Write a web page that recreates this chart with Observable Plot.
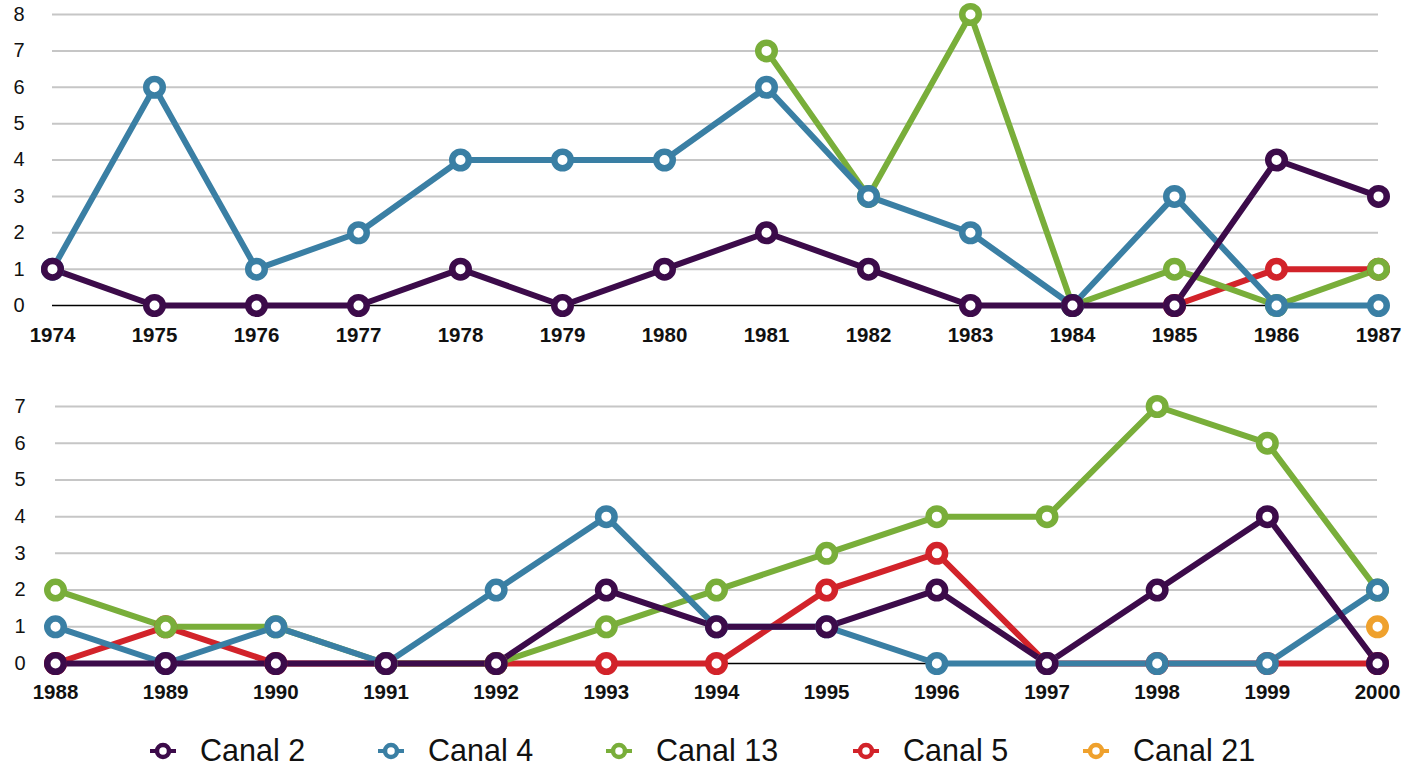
<!DOCTYPE html>
<html>
<head>
<meta charset="utf-8">
<script src="https://cdn.jsdelivr.net/npm/d3@7"></script>
<script src="https://cdn.jsdelivr.net/npm/@observablehq/plot@0.6"></script>
<style>
  html, body { margin: 0; padding: 0; background: #fff; }
  body { width: 1416px; height: 771px; overflow: hidden; font-family: "Liberation Sans", Arial, Helvetica, sans-serif; }
  #top, #bottom { display: block; height: auto; }
  #top svg, #bottom svg { display: block; }
  #legend { position: absolute; left: 0; top: 730px; width: 1416px; height: 41px; }
  .item { position: absolute; top: 0; height: 41px; display: flex; align-items: center; }
  .item span { font-size: 30.5px; color: #111; margin-left: 22px; line-height: 41px; }
</style>
</head>
<body>
<div id="top"></div>
<div id="bottom"></div>
<div id="legend"></div>
<script>
// ---- data ----
const series = ["Canal 2", "Canal 4", "Canal 13", "Canal 5", "Canal 21"];
const colors = ["#3c0b4a", "#3a7fa4", "#79ae3a", "#d2232a", "#efa12d"];

const yearsTop = [1974, 1975, 1976, 1977, 1978, 1979, 1980, 1981, 1982, 1983, 1984, 1985, 1986, 1987];
const canal2Top  = [1, 0, 0, 0, 1, 0, 1, 2, 1, 0, 0, 0, 4, 3];
const canal4Top  = [1, 6, 1, 2, 4, 4, 4, 6, 3, 2, 0, 3, 0, 0];
const canal13Top = [null, null, null, null, null, null, null, 7, 3, 8, 0, 1, 0, 1];
const canal5Top  = [null, null, null, null, null, null, null, null, null, null, null, 0, 1, 1];
const canal21Top = [null, null, null, null, null, null, null, null, null, null, null, null, null, null];

const yearsBottom = [1988, 1989, 1990, 1991, 1992, 1993, 1994, 1995, 1996, 1997, 1998, 1999, 2000];
const canal2Bottom  = [0, 0, 0, 0, 0, 2, 1, 1, 2, 0, 2, 4, 0];
const canal4Bottom  = [1, 0, 1, 0, 2, 4, 1, 1, 0, 0, 0, 0, 2];
const canal13Bottom = [2, 1, 1, 0, 0, 1, 2, 3, 4, 4, 7, 6, 2];
const canal5Bottom  = [0, 1, 0, 0, 0, 0, 0, 2, 3, 0, 0, 0, 0];
const canal21Bottom = [null, null, null, null, null, null, null, null, null, null, null, null, 1];

const yTicksTop = [0, 1, 2, 3, 4, 5, 6, 7, 8];
const yTicksBottom = [0, 1, 2, 3, 4, 5, 6, 7];

// ---- build tables ----
function toRows(years, cols) {
  const rows = [];
  // draw order: Canal 21 bottom ... Canal 2 on top
  const order = [4, 3, 2, 1, 0];
  for (const i of order) {
    years.forEach((yr, j) => {
      const v = cols[i][j];
      if (v !== null) rows.push({year: yr, value: v, series: series[i], ord: i});
    });
  }
  return rows;
}
const topRows = toRows(yearsTop, [canal2Top, canal4Top, canal13Top, canal5Top, canal21Top]);
const bottomRows = toRows(yearsBottom, [canal2Bottom, canal4Bottom, canal13Bottom, canal5Bottom, canal21Bottom]);

const font = "'Liberation Sans', Arial, Helvetica, sans-serif";

function makePlot(rows, years, yTicks, opts) {
  return Plot.plot({
    width: 1416,
    height: opts.height,
    marginTop: opts.marginTop,
    marginBottom: opts.marginBottom,
    marginLeft: opts.marginLeft,
    marginRight: opts.marginRight,
    style: {fontFamily: font, fontSize: "19px", background: "white", overflow: "visible"},
    x: {type: "linear", domain: [years[0], years[years.length - 1]]},
    y: {domain: [yTicks[0], yTicks[yTicks.length - 1]]},
    color: {domain: series, range: colors},
    marks: [
      Plot.ruleY(yTicks.filter(d => d > 0), {stroke: "#c6c6c6", strokeWidth: 2}),
      Plot.ruleY([0], {stroke: "#000", strokeWidth: 1.5}),
      Plot.axisY({ticks: yTicks, tickFormat: d => String(d), tickSize: 0, tickPadding: opts.yPad, label: null, fontSize: 20, fill: "#111"}),
      Plot.axisX({ticks: years, tickFormat: d => String(d), tickSize: 0, tickPadding: opts.xPad, label: null, fontSize: 20.5, fontWeight: "bold", fill: "#111"}),
      Plot.line(rows, {x: "year", y: "value", z: "series", stroke: "series", strokeWidth: 6, strokeLinejoin: "round", strokeLinecap: "round"}),
      Plot.dot(rows, {x: "year", y: "value", stroke: "series", fill: "white", r: 8.25, strokeWidth: 6.5})
    ]
  });
}

document.getElementById("top").appendChild(
  makePlot(topRows, yearsTop, yTicksTop, {height: 380, marginTop: 14, marginBottom: 75, marginLeft: 52, marginRight: 38, yPad: 28, xPad: 22})
);
document.getElementById("bottom").appendChild(
  makePlot(bottomRows, yearsBottom, yTicksBottom, {height: 350, marginTop: 26, marginBottom: 67, marginLeft: 55, marginRight: 39, yPad: 30, xPad: 21})
);

// ---- legend ----
const legendX = [148, 376, 604, 851, 1081];
const legend = document.getElementById("legend");
series.forEach((s, i) => {
  const item = document.createElement("div");
  item.className = "item";
  item.style.left = legendX[i] + "px";
  item.innerHTML = `<svg width="30" height="20" viewBox="-15 -10 30 20"><line x1="-13" x2="13" y1="0" y2="0" stroke="${colors[i]}" stroke-width="4"/><circle r="6" fill="white" stroke="${colors[i]}" stroke-width="4.5"/></svg><span>${s}</span>`;
  legend.appendChild(item);
});
</script>
</body>
</html>
